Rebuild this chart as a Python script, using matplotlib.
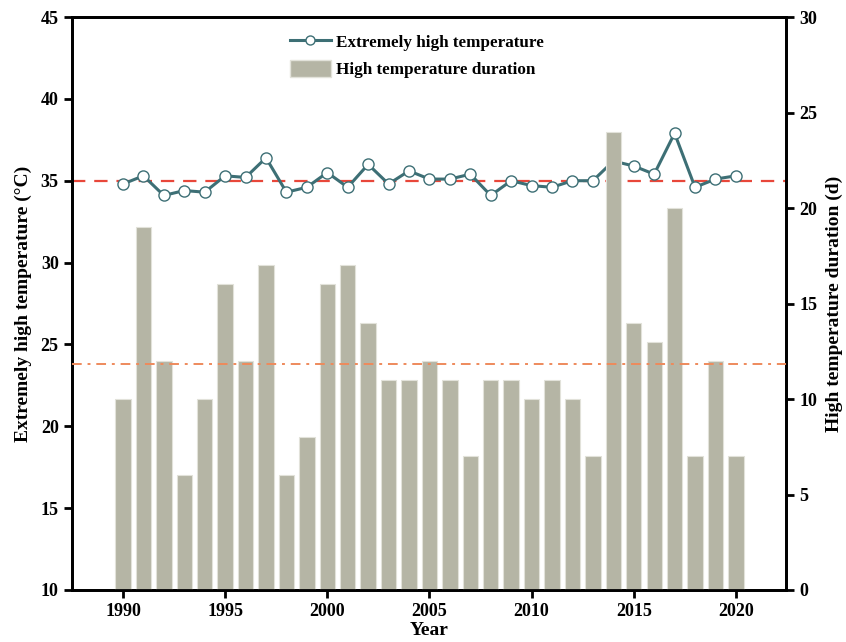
import matplotlib
matplotlib.use('Agg')
import matplotlib.pyplot as plt
from matplotlib.patches import Patch
from matplotlib.lines import Line2D

plt.rcParams['font.family'] = 'Liberation Serif'
plt.rcParams['font.weight'] = 'bold'
plt.rcParams['font.size'] = 13

# Data
years = list(range(1990, 2021))
max_temp = [34.8, 35.3, 34.1, 34.4, 34.3, 35.3, 35.2, 36.4, 34.3, 34.6,
            35.5, 34.6, 36.0, 34.8, 35.6, 35.1, 35.1, 35.4, 34.1, 35.0,
            34.7, 34.6, 35.0, 35.0, 36.2, 35.9, 35.4, 37.9, 34.6, 35.1,
            35.3]
duration = [10, 19, 12, 6, 10, 16, 12, 17, 6, 8,
            16, 17, 14, 11, 11, 12, 11, 7, 11, 11,
            10, 11, 10, 7, 24, 14, 13, 20, 7, 12,
            7]
temp_threshold = 35
duration_ref = 11.85

c_line = '#3d6f75'
c_bar = '#b5b5a5'
c_red = '#e8473a'
c_orange = '#ee8a5c'

fig = plt.figure(figsize=(8.46, 6.42), dpi=100)
ax1 = fig.add_axes([0.085, 0.081, 0.844, 0.8925])
ax2 = ax1.twinx()

# Temperature line (left axis, drawn under the bars)
ax1.axhline(temp_threshold, color=c_red, lw=1.6, dashes=(6, 4), zorder=1)
ax1.plot(years, max_temp, color=c_line, lw=2.2, marker='o', ms=8,
         mfc='white', mec=c_line, mew=1.0, zorder=2)

# Duration bars (right axis)
ax2.bar(years, duration, width=0.75, color=c_bar, edgecolor='#e2e2da',
        linewidth=0.8, zorder=2)
ax2.axhline(duration_ref, color=c_orange, lw=1.4, dashes=(5, 3, 1.5, 3), zorder=3)

ax1.set_xlim(1987.5, 2022.45)
ax1.set_ylim(10, 45)
ax2.set_ylim(0, 30)
ax1.set_xticks(range(1990, 2021, 5))
ax1.set_yticks(range(10, 46, 5))
ax2.set_yticks(range(0, 31, 5))

for ax in (ax1, ax2):
    for s in ax.spines.values():
        s.set_linewidth(2)
    ax.tick_params(direction='out', length=6, width=2, labelsize=13)

ax1.set_ylabel('Extremely high temperature (°C)', fontsize=14, fontweight='bold', labelpad=6)
ax2.set_ylabel('High temperature duration (d)', fontsize=14, fontweight='bold', labelpad=6)
ax1.set_xlabel('Year', fontsize=14, fontweight='bold', labelpad=1)

handles = [
    Line2D([], [], color=c_line, lw=2.2, marker='o', ms=6.5, mfc='white', mec=c_line),
    Patch(facecolor=c_bar, edgecolor='#e2e2da'),
]
ax2.legend(handles, ['Extremely high temperature', 'High temperature duration'],
           loc='upper left', bbox_to_anchor=(0.305, 0.972), frameon=False,
           borderpad=0, borderaxespad=0, fontsize=12.3, handlelength=2.4,
           handleheight=1.1, handletextpad=0.3, labelspacing=0.55)

fig.savefig('out.png', dpi=100)
